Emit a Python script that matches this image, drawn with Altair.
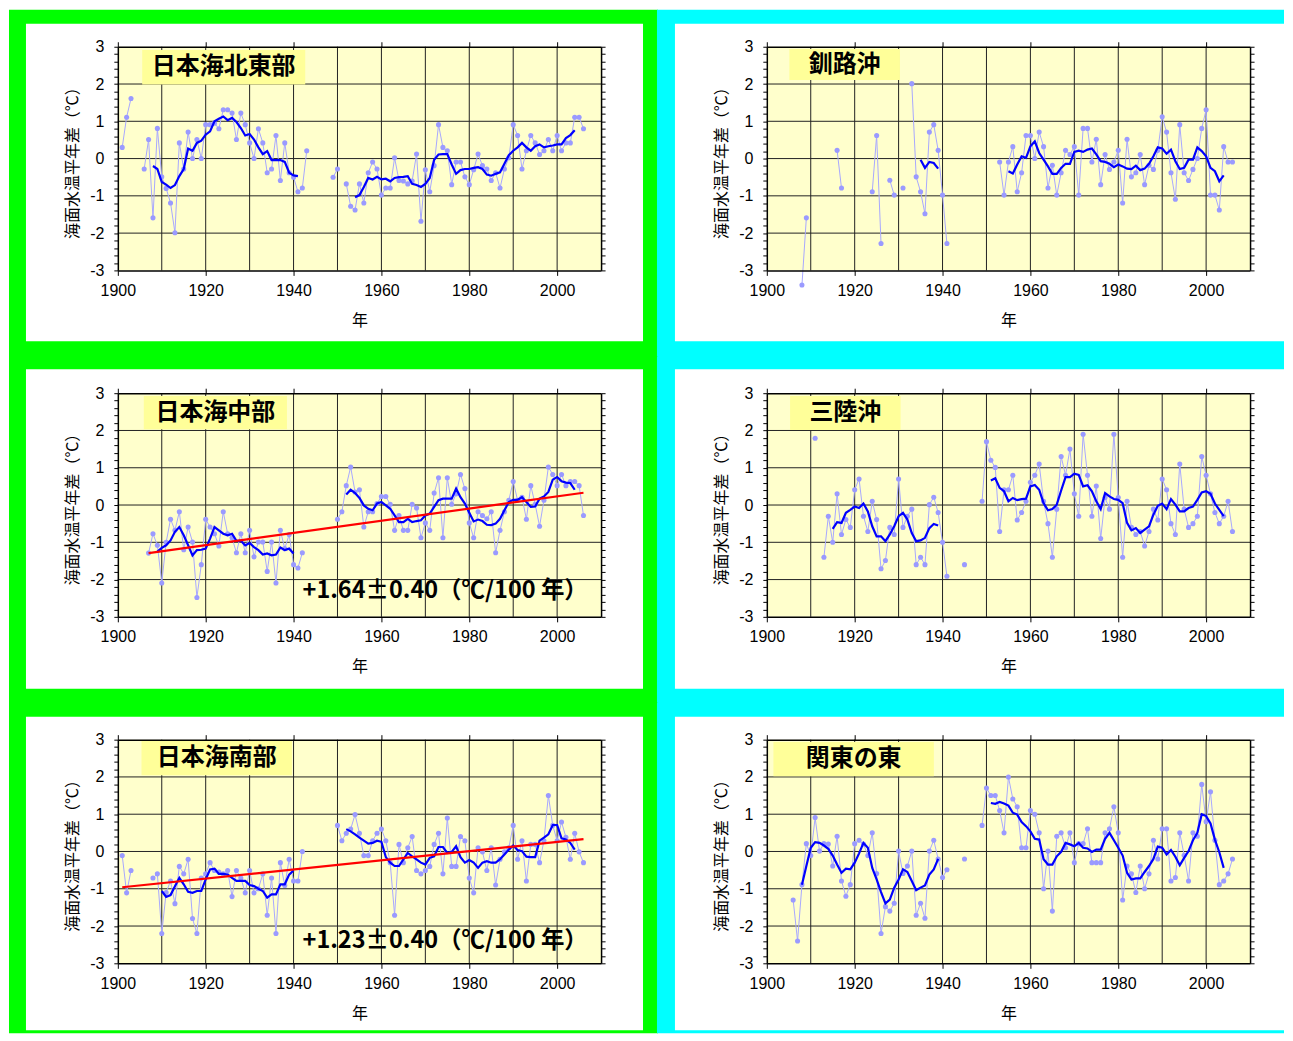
import altair as alt
import pandas as pd

N = None
YEARS = list(range(1901, 2007))

NAMES = ["日本海北東部", "釧路沖", "日本海中部", "三陸沖", "日本海南部", "関東の東"]

# ---- 日本海北東部 -------------------------------------------------------
NE_SST = [
    0.30, 1.11, 1.61, N, N, -0.28, 0.51, -1.59, 0.81, -0.49,
    -0.80, -1.19, -1.99, 0.42, -0.28, 0.71, 0.00, 0.51, 0.00, 0.91,
    0.91, 0.95, 0.80, 1.31, 1.31, 1.22, 0.51, 1.22, 0.91, 0.42,
    0.00, 0.80, 0.42, -0.38, -0.28, 0.62, -0.59, 0.42, -0.38, -0.50,
    -0.89, -0.79, 0.21, N, N, N, N, N, -0.50, -0.28,
    N, -0.68, -1.28, -1.38, -0.68, -1.19, -0.38, -0.09, -0.28, -0.98,
    -0.79, -0.79, 0.02, -0.59, -0.60, -0.68, -0.60, 0.12, -1.68, -0.30,
    -0.89, -0.19, 0.91, 0.30, 0.21, -0.70, -0.09, -0.09, -0.49, -0.70,
    -0.30, 0.12, -0.19, -0.28, -0.59, -0.38, -0.79, -0.28, 0.02, 0.91,
    0.62, -0.28, 0.21, 0.62, 0.42, 0.11, 0.21, 0.51, 0.21, 0.62,
    0.21, 0.42, 0.42, 1.11, 1.11, 0.80]
NE_5YR = [
    N, N, N, N, N, N, N, -0.20, -0.28, -0.63,
    -0.70, -0.79, -0.71, -0.47, -0.28, 0.27, 0.21, 0.42, 0.48, 0.64,
    0.73, 1.00, 1.07, 1.13, 1.03, 1.09, 0.98, 0.82, 0.62, 0.66,
    0.51, 0.30, 0.12, 0.20, -0.04, -0.04, -0.04, -0.09, -0.38, -0.45,
    -0.47, N, N, N, N, N, N, N, N, N,
    N, N, N, -1.04, -0.98, -0.76, -0.52, -0.56, -0.49, -0.56,
    -0.54, -0.61, -0.52, -0.50, -0.49, -0.47, -0.68, -0.71, -0.76, -0.68,
    -0.52, -0.03, 0.11, 0.12, 0.12, -0.16, -0.41, -0.31, -0.28, -0.28,
    -0.25, -0.23, -0.28, -0.43, -0.46, -0.41, -0.37, -0.14, 0.09, 0.21,
    0.30, 0.42, 0.30, 0.21, 0.33, 0.38, 0.30, 0.33, 0.35, 0.38,
    0.38, 0.55, 0.63, 0.76, N, N]

# ---- 釧路沖 ---------------------------------------------------------------
KU_SST = [
    N, N, N, N, N, N, N, -3.39, -1.59, N,
    N, N, N, N, N, 0.22, -0.79, N, N, N,
    N, N, N, -0.89, 0.62, -2.28, N, -0.58, -0.98, N,
    -0.79, N, 2.01, -0.49, -0.89, -1.48, 0.71, 0.91, 0.22, -0.98,
    -2.28, N, N, N, N, N, N, N, N, N,
    N, N, -0.09, -0.98, -0.09, 0.32, -0.89, -0.38, 0.62, 0.62,
    0.00, 0.71, 0.32, -0.79, -0.18, -0.98, -0.38, 0.22, 0.11, 0.32,
    -0.98, 0.81, 0.81, -0.09, 0.52, -0.70, 0.11, -0.29, -0.09, 0.22,
    -1.19, 0.52, -0.49, -0.38, 0.11, -0.70, -0.18, -0.29, 0.22, 1.12,
    0.71, -0.38, -1.09, 0.91, -0.38, -0.59, -0.29, 0.00, 0.81, 1.31,
    -0.98, -0.98, -1.38, 0.32, -0.09, -0.09]
KU_5YR = [
    N, N, N, N, N, N, N, N, N, N,
    N, N, N, N, N, N, N, N, N, N,
    N, N, N, N, N, N, N, N, N, N,
    N, N, N, N, -0.03, -0.25, -0.09, -0.12, -0.27, N,
    N, N, N, N, N, N, N, N, N, N,
    N, N, N, N, -0.34, -0.40, -0.16, 0.06, 0.02, 0.33,
    0.46, 0.15, -0.03, -0.21, -0.41, -0.41, -0.25, -0.14, -0.14, 0.18,
    0.21, 0.18, 0.24, 0.27, 0.11, -0.07, -0.09, -0.14, -0.23, -0.16,
    -0.21, -0.27, -0.28, -0.19, -0.31, -0.27, -0.14, 0.06, 0.30, 0.27,
    0.13, 0.24, -0.07, -0.28, -0.25, -0.03, -0.03, 0.30, 0.20, 0.06,
    -0.25, -0.34, -0.61, -0.45, N, N]

# ---- 日本海中部 -----------------------------------------------------------
CE_SST = [
    N, N, N, N, N, N, -1.29, -0.77, -1.08, -2.09,
    -1.00, -0.38, -0.68, -0.18, -1.20, -0.59, -0.99, -2.48, -1.60, -0.38,
    -0.59, -0.77, -1.10, -0.18, -0.77, -0.88, -1.28, -0.77, -1.28, -0.68,
    -1.39, -0.99, -0.99, -1.78, -0.99, -2.09, -0.68, -1.17, -0.79, -1.60,
    -1.69, -1.28, N, N, N, N, N, N, N, -0.38,
    -0.18, 0.52, 1.02, 0.35, 0.41, -0.59, -0.18, -0.18, 0.04, 0.23,
    0.23, 0.02, -0.68, -0.28, -0.68, -0.68, 0.02, -0.08, -0.88, -0.48,
    -0.68, 0.32, 0.73, -0.88, 0.73, 0.02, 0.30, 0.82, 0.44, -0.48,
    -0.88, -0.18, -0.28, -0.37, -0.18, -1.28, -0.68, -0.18, 0.13, 0.63,
    0.13, 0.21, -0.38, 0.52, 0.02, -0.57, 0.13, 1.02, 0.82, 0.52,
    0.82, 0.52, 0.63, 0.63, 0.52, -0.28]
CE_5YR = [
    N, N, N, N, N, N, N, N, -1.25, -1.15,
    -1.08, -0.95, -0.72, -0.59, -0.81, -1.08, -1.35, -1.21, -1.20, -1.17,
    -0.90, -0.59, -0.68, -0.77, -0.81, -0.77, -0.96, -0.96, -1.08, -1.02,
    -1.13, -1.21, -1.33, -1.30, -1.35, -1.33, -1.14, -1.21, -1.17, -1.30,
    N, N, N, N, N, N, N, N, N, N,
    N, 0.28, 0.41, 0.32, 0.19, -0.01, -0.10, -0.14, 0.04, 0.08,
    -0.01, -0.10, -0.28, -0.46, -0.46, -0.37, -0.46, -0.43, -0.41, -0.28,
    -0.23, -0.05, 0.13, 0.17, 0.17, 0.17, 0.44, 0.21, 0.04, -0.21,
    -0.44, -0.39, -0.43, -0.53, -0.54, -0.50, -0.37, -0.14, 0.08, 0.14,
    0.14, 0.21, 0.08, -0.05, -0.04, 0.17, 0.23, 0.35, 0.68, 0.75,
    0.64, 0.60, 0.59, 0.41, N, N]
CE_TREND_YEARS = [1907, 2006]
CE_TREND = [-1.29, 0.33]
CE_TREND_LABEL = "+1.64±0.40（℃/100 年）"

# ---- 三陸沖 ---------------------------------------------------------------
SA_SST = [
    N, N, N, N, N, N, N, N, N, N,
    1.79, N, -1.40, -0.30, -1.00, 0.30, -0.79, -0.39, -0.60, 0.41,
    0.70, -0.30, -0.71, 0.10, -0.39, -1.71, -1.49, -0.60, -0.79, 0.70,
    -0.60, -0.30, -0.11, -1.60, -1.40, -1.60, 0.01, 0.21, -0.20, -1.00,
    -1.91, N, N, N, -1.60, N, N, N, 0.10, 1.70,
    1.20, 1.01, -0.71, 0.41, 0.41, 0.80, -0.40, -0.20, 0.10, 0.61,
    0.80, 1.10, 0.10, -0.50, -1.40, -0.11, 1.30, 0.80, 1.50, 0.30,
    -0.30, 1.90, 0.80, -0.30, 0.51, -0.90, 0.20, -0.11, 1.90, 0.20,
    -1.40, 0.10, -0.60, -0.79, -0.71, -1.10, -0.71, -0.11, -0.40, 0.70,
    0.41, -0.50, -0.79, 1.10, -0.11, -0.60, -0.50, -0.30, 1.30, 0.80,
    0.30, -0.20, -0.50, -0.30, 0.10, -0.71]
SA_5YR = [
    N, N, N, N, N, N, N, N, N, N,
    N, N, N, N, -0.64, -0.46, -0.48, -0.21, -0.13, -0.04,
    -0.08, 0.04, -0.17, -0.57, -0.84, -0.84, -0.97, -0.79, -0.57, -0.30,
    -0.21, -0.39, -0.75, -0.97, -0.95, -0.88, -0.62, -0.51, -0.55, N,
    N, N, N, N, N, N, N, N, N, N,
    0.66, 0.72, 0.46, 0.37, 0.10, 0.19, 0.13, 0.16, 0.17, 0.50,
    0.54, 0.41, 0.05, -0.14, -0.11, 0.01, 0.39, 0.75, 0.75, 0.84,
    0.81, 0.50, 0.53, 0.37, 0.10, -0.11, 0.32, 0.23, 0.16, 0.14,
    0.05, -0.48, -0.68, -0.62, -0.75, -0.66, -0.57, -0.26, -0.02, 0.04,
    -0.11, 0.16, 0.01, -0.17, -0.17, -0.08, -0.04, 0.14, 0.34, 0.37,
    0.30, 0.04, -0.13, -0.30, N, N]

# ---- 日本海南部 -----------------------------------------------------------
SO_SST = [
    -0.11, -1.11, -0.51, N, N, N, N, -0.71, -0.60, -2.20,
    -1.10, -0.79, -1.40, -0.40, -0.60, -0.21, -1.80, -2.20, -0.71, -0.60,
    -0.30, -0.51, -0.55, -0.60, -0.51, -1.21, -0.51, -0.71, -1.11, -0.51,
    -1.11, -1.00, -0.60, -1.71, -0.71, -2.20, -0.30, -0.91, -0.21, -0.79,
    -0.79, 0.00, N, N, N, N, N, N, N, 0.70,
    0.29, 0.49, 0.60, 0.99, 0.49, -0.11, -0.11, 0.29, 0.49, 0.60,
    0.29, -0.30, -1.71, 0.19, -0.30, 0.10, 0.40, -0.51, -0.60, -0.51,
    -0.40, 0.19, 0.49, -0.60, 0.90, -0.40, -0.40, 0.40, 0.29, -0.71,
    -1.11, 0.10, -0.01, -0.51, 0.10, -0.90, -0.21, -0.01, 0.10, 0.70,
    -0.21, 0.29, -0.79, 0.19, 0.19, -0.30, 0.29, 1.50, 0.70, 0.29,
    0.79, 0.38, -0.21, 0.49, -0.01, -0.30]
SO_5YR = [
    N, N, N, N, N, N, N, N, N, -1.06,
    -1.22, -1.17, -0.93, -0.71, -0.88, -1.08, -1.11, -1.06, -1.06, -0.75,
    -0.48, -0.46, -0.60, -0.60, -0.62, -0.71, -0.79, -0.79, -0.79, -0.90,
    -0.93, -1.00, -1.06, -1.24, -1.15, -1.15, -0.88, -0.88, -0.62, -0.51,
    N, N, N, N, N, N, N, N, N, N,
    N, 0.60, 0.54, 0.46, 0.37, 0.29, 0.21, 0.23, 0.29, 0.26,
    -0.15, -0.30, -0.39, -0.39, -0.21, -0.04, -0.13, -0.21, -0.30, -0.35,
    -0.17, -0.13, 0.12, 0.12, -0.04, -0.01, 0.14, -0.15, -0.30, -0.23,
    -0.30, -0.44, -0.30, -0.26, -0.30, -0.30, -0.21, -0.08, 0.05, 0.16,
    0.04, 0.01, -0.14, -0.15, -0.15, 0.29, 0.37, 0.46, 0.71, 0.71,
    0.35, 0.32, 0.23, 0.05, N, N]
SO_TREND_YEARS = [1901, 2006]
SO_TREND = [-0.96, 0.33]
SO_TREND_LABEL = "+1.23±0.40（℃/100 年）"

# ---- 関東の東 -------------------------------------------------------------
KA_SST = [
    N, N, N, N, N, -1.30, -2.40, -0.89, 0.21, -0.11,
    0.91, 0.01, 0.21, 0.20, -0.39, 0.41, -0.79, -1.20, -0.89, 0.21,
    0.30, 0.20, -0.11, 0.50, -0.59, -2.20, -1.48, -1.60, -1.39, 0.01,
    -0.59, -0.39, 0.01, -1.71, -1.39, -1.79, 0.01, 0.30, -0.20, -0.70,
    -0.49, N, N, N, -0.20, N, N, N, 0.70, 1.70,
    1.50, 1.50, 1.10, 0.50, 2.00, 1.41, 1.20, 0.10, 0.10, 1.10,
    1.00, 0.50, -1.00, 0.01, -1.60, 0.41, 0.50, 0.10, 0.50, -0.30,
    0.21, 0.21, 0.61, -0.30, -0.30, -0.30, 0.50, 0.61, 1.20, 0.50,
    -1.30, -0.39, -0.60, -1.10, -0.39, -1.00, -0.60, 0.30, -0.20, 0.61,
    0.61, -0.79, -0.70, 0.50, -0.10, -0.79, 0.50, 0.41, 1.80, 0.80,
    1.60, 0.30, -0.89, -0.79, -0.60, -0.20]
KA_5YR = [
    N, N, N, N, N, N, N, -0.89, -0.39, 0.10,
    0.25, 0.23, 0.16, 0.07, -0.11, -0.35, -0.57, -0.46, -0.48, -0.30,
    -0.05, 0.23, 0.10, -0.44, -0.75, -1.09, -1.39, -1.29, -0.97, -0.75,
    -0.48, -0.55, -0.79, -1.04, -0.97, -0.91, -0.62, -0.48, -0.20, N,
    N, N, N, N, N, N, N, N, N, N,
    1.30, 1.28, 1.33, 1.29, 1.23, 1.04, 0.99, 0.79, 0.68, 0.54,
    0.34, 0.32, -0.21, -0.35, -0.35, -0.13, -0.01, 0.23, 0.19, 0.14,
    0.23, 0.10, 0.08, -0.01, 0.05, 0.05, 0.34, 0.50, 0.30, 0.10,
    -0.11, -0.57, -0.75, -0.72, -0.72, -0.55, -0.39, -0.20, 0.13, 0.10,
    -0.08, 0.04, -0.14, -0.37, -0.17, 0.01, 0.30, 0.50, 1.00, 0.95,
    0.75, 0.32, -0.02, -0.44, N, N]

# ---- axes ------------------------------------------------------------------
X_DOMAIN = [1900, 2010]
Y_DOMAIN = [-3, 3]
X_TICKS = [1900, 1920, 1940, 1960, 1980, 2000]
X_GRID = [1910, 1920, 1930, 1940, 1950, 1960, 1970, 1980, 1990, 2000]
Y_GRID = [-2, -1, 0, 1, 2]
Y_TICKS = [round(-3 + 0.2 * i, 1) for i in range(31)]
X_TITLE = "年"
Y_TITLE = "海面水温平年差（℃）"

W, H = 484, 224
JP = "Noto Sans CJK JP"
LAT = "Liberation Sans"
GREEN = "#00FF00"
CYAN = "#00FFFF"
PLOT_BG = "#FFFFCC"
BOX_BG = "#FFFF99"

xs = alt.Scale(domain=X_DOMAIN, nice=False, zero=False)
ys = alt.Scale(domain=Y_DOMAIN, nice=False, zero=False)

AX = dict(domainColor="black", domainWidth=1.5, tickColor="black", tickWidth=1,
          grid=False, zindex=1, labelFont=LAT, labelFontSize=16, labelColor="black")

x_bottom = alt.Axis(orient="bottom", values=X_TICKS, format="d", tickSize=5, labelPadding=7,
                    labelFlush=False, labelOverlap=False, title=X_TITLE, titleFont=JP,
                    titleFontSize=16, titleFontWeight="normal", titleColor="black",
                    titlePadding=14, **AX)
x_top = alt.Axis(orient="top", values=X_TICKS, tickSize=5, labels=False, title=None, **AX)
y_left = alt.Axis(orient="left", values=Y_TICKS, tickSize=4, labelPadding=10,
                  labelFlush=False, labelOverlap=False,
                  labelExpr="abs(datum.value - round(datum.value)) < 0.001 ? '' + round(datum.value) : ''",
                  title=Y_TITLE, titleFont=JP, titleFontSize=16, titleFontWeight="normal",
                  titleColor="black", titlePadding=9, **AX)
y_right = alt.Axis(orient="right", values=Y_TICKS, tickSize=4, labels=False, title=None, **AX)


def rows_from(vals):
    rows, seg, prev = [], 0, False
    for yr, v in zip(YEARS, vals):
        if v is None:
            if prev:
                seg += 1
            prev = False
            continue
        rows.append({"year": yr, "v": v, "seg": seg})
        prev = True
    return pd.DataFrame(rows)


def deco_rect(x, x2, y, y2, color):
    return alt.Chart(alt.Data(values=[{}])).mark_rect(color=color).encode(
        x=alt.value(x), x2=alt.value(x2), y=alt.value(y), y2=alt.value(y2))


def panel(name, annual, smooth, col, row, box, trend=None):
    if col == 0:
        fx, wx, fcol = (-109, W + 57), (-92, W + 42), GREEN
    else:
        fx, wx, fcol = (-110, W + 34), (-92, W + 34), CYAN
    if row == 0:
        fy, wy = (-37, H + 87), (-23, H + 71)
    elif row == 1:
        fy, wy = (-37, H + 87), (-24, H + 72)
    else:
        fy, wy = (-37, H + 70), (-23, H + 67)

    layers = [
        deco_rect(fx[0], fx[1], fy[0], fy[1], fcol),
        deco_rect(wx[0], wx[1], wy[0], wy[1], "white"),
        deco_rect(0, W, 0, H, PLOT_BG),
        alt.Chart(pd.DataFrame({"g": X_GRID})).mark_rule(color="#222222", strokeWidth=1).encode(
            x=alt.X("g:Q", scale=xs, axis=x_bottom), y=alt.value(0), y2=alt.value(H)),
        alt.Chart(pd.DataFrame({"g": Y_GRID})).mark_rule(color="#222222", strokeWidth=1).encode(
            y=alt.Y("g:Q", scale=ys, axis=y_left), x=alt.value(0), x2=alt.value(W)),
        deco_rect(box[0], box[1], box[2], box[3], BOX_BG),
        alt.Chart(pd.DataFrame({"t": [name]})).mark_text(
            font=JP, fontSize=24, fontWeight="bold", color="black", align="center",
            baseline="middle").encode(x=alt.value((box[0] + box[1]) / 2),
                                      y=alt.value((box[2] + box[3]) / 2), text="t:N"),
    ]
    ann = rows_from(annual)
    sm = rows_from(smooth)
    layers.append(alt.Chart(ann).mark_line(color="#a8a8ff", strokeWidth=1).encode(
        x=alt.X("year:Q", scale=xs, axis=x_top),
        y=alt.Y("v:Q", scale=ys, axis=y_right), detail="seg:N"))
    layers.append(alt.Chart(ann).mark_circle(color="#9a9aff", size=26, opacity=1).encode(
        x=alt.X("year:Q", scale=xs, axis=None), y=alt.Y("v:Q", scale=ys, axis=None)))
    layers.append(alt.Chart(sm).mark_line(color="#0000ff", strokeWidth=2.2).encode(
        x=alt.X("year:Q", scale=xs, axis=None), y=alt.Y("v:Q", scale=ys, axis=None),
        detail="seg:N"))
    if trend is not None:
        tyears, tvals, tlabel, tpos = trend
        layers.append(alt.Chart(pd.DataFrame({"year": tyears, "v": tvals})).mark_line(
            color="#ff0000", strokeWidth=2.2).encode(
            x=alt.X("year:Q", scale=xs, axis=None), y=alt.Y("v:Q", scale=ys, axis=None)))
        layers.append(alt.Chart(pd.DataFrame({"t": [tlabel]})).mark_text(
            font=JP, fontSize=23.5, fontWeight="bold", color="black", align="left",
            baseline="middle").encode(x=alt.value(tpos[0]), y=alt.value(tpos[1]), text="t:N"))
    return alt.layer(*layers).properties(width=W, height=H)


p1 = panel(NAMES[0], NE_SST, NE_5YR, 0, 0, (24.4, 187.7, 3.3, 37.7))
p2 = panel(NAMES[1], KU_SST, KU_5YR, 1, 0, (22.6, 133.3, 2.3, 33.3))
p3 = panel(NAMES[2], CE_SST, CE_5YR, 0, 1, (26.0, 169.4, 2.8, 36.2),
           trend=(CE_TREND_YEARS, CE_TREND, CE_TREND_LABEL, (185, 198.5)))
p4 = panel(NAMES[3], SA_SST, SA_5YR, 1, 1, (23.3, 134.0, 2.8, 36.8))
p5 = panel(NAMES[4], SO_SST, SO_5YR, 0, 2, (23.7, 174.4, 1.3, 35.7),
           trend=(SO_TREND_YEARS, SO_TREND, SO_TREND_LABEL, (185, 202)))
p6 = panel(NAMES[5], KA_SST, KA_5YR, 1, 2, (6.6, 167.3, 2.3, 36.7))

chart = alt.concat(p1, p2, p3, p4, p5, p6, columns=2, bounds="flush",
                   spacing={"row": 123, "column": 166}).properties(padding=0).configure_view(
    stroke=None).configure(background="white")

chart.save("out.html", embed_options={"renderer": "svg", "actions": False})
